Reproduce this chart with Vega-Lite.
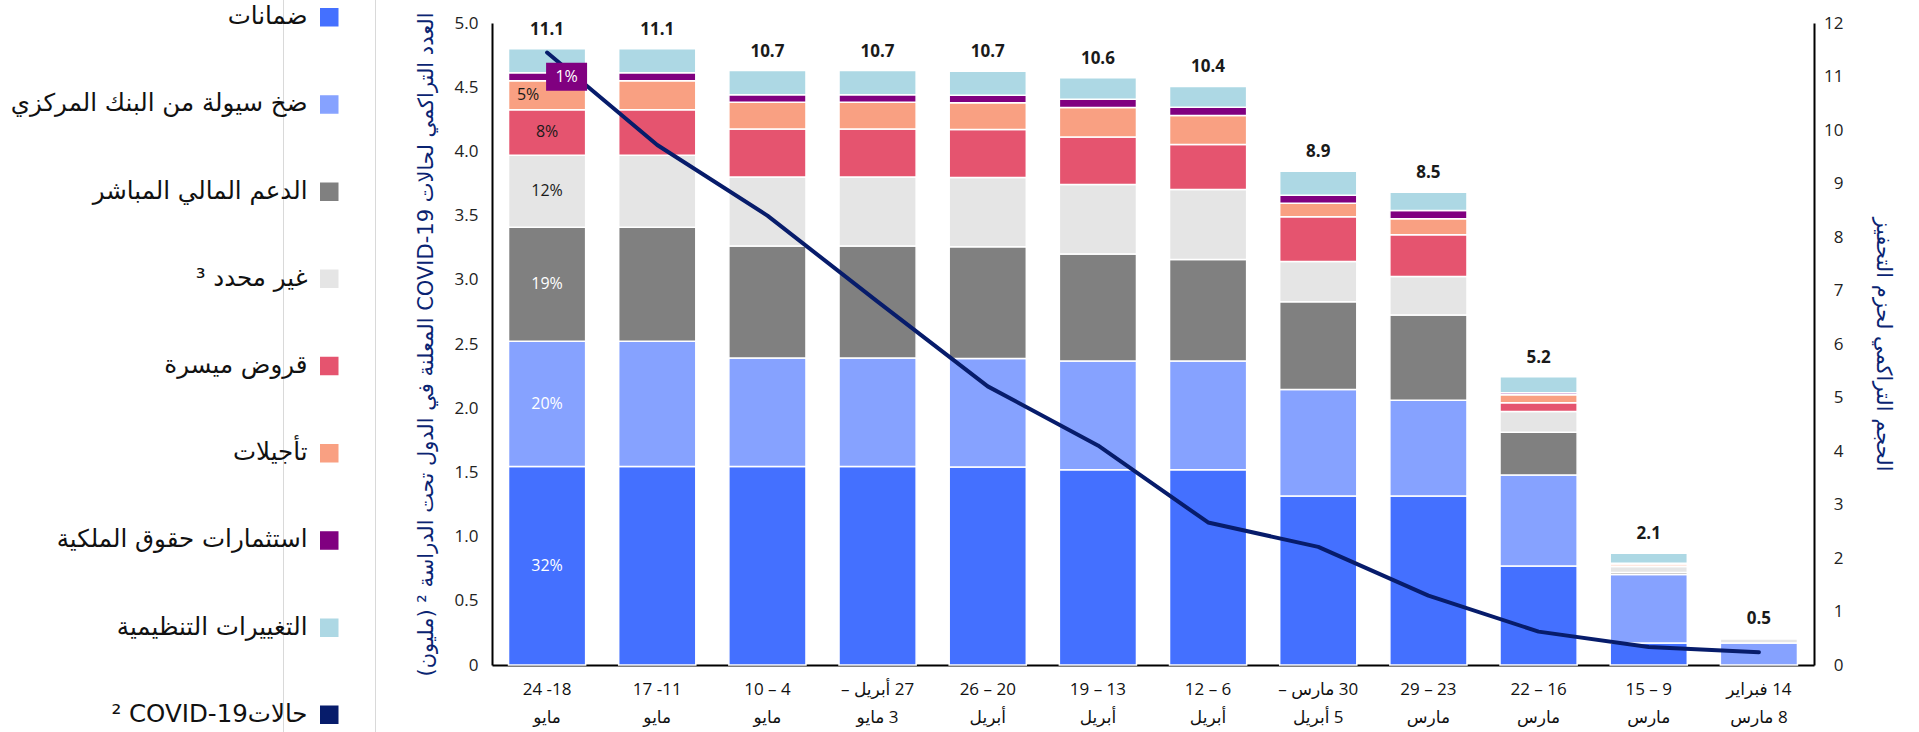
{
  "$schema": "https://vega.github.io/schema/vega-lite/v6.json",
  "autosize": {"type": "none"},
  "width": 1322,
  "height": 642,
  "padding": {"left": 492, "top": 23, "right": 105, "bottom": 67},
  "background": "white",
  "config": {
    "font": "Open Sans, DejaVu Sans",
    "view": {"stroke": null},
    "axis": {"grid": false, "ticks": false, "tickSize": 0, "domainColor": "#000000", "domainWidth": 2, "labelColor": "#222222", "labelFontSize": 17, "labelFont": "Open Sans, DejaVu Sans", "titleFont": "DejaVu Sans", "titleFontSize": 21, "titleFontWeight": "normal", "titleColor": "#0a2472"}
  },
  "datasets": {
    "seg": [
      {"w": "24 -18|مايو", "c": "ضمانات", "k": 1, "v": 3.71, "p": "32%"},
      {"w": "24 -18|مايو", "c": "ضخ سيولة من البنك المركزي", "k": 2, "v": 2.34, "p": "20%"},
      {"w": "24 -18|مايو", "c": "الدعم المالي المباشر", "k": 3, "v": 2.13, "p": "19%"},
      {"w": "24 -18|مايو", "c": "غير محدد ³", "k": 4, "v": 1.35, "p": "12%"},
      {"w": "24 -18|مايو", "c": "قروض ميسرة", "k": 5, "v": 0.85, "p": "8%"},
      {"w": "24 -18|مايو", "c": "تأجيلات", "k": 6, "v": 0.54, "p": "5%"},
      {"w": "24 -18|مايو", "c": "استثمارات حقوق الملكية", "k": 7, "v": 0.15, "p": "1%"},
      {"w": "24 -18|مايو", "c": "التغييرات التنظيمية", "k": 8, "v": 0.45},

      {"w": "17 -11|مايو", "c": "ضمانات", "k": 1, "v": 3.71},
      {"w": "17 -11|مايو", "c": "ضخ سيولة من البنك المركزي", "k": 2, "v": 2.34},
      {"w": "17 -11|مايو", "c": "الدعم المالي المباشر", "k": 3, "v": 2.13},
      {"w": "17 -11|مايو", "c": "غير محدد ³", "k": 4, "v": 1.35},
      {"w": "17 -11|مايو", "c": "قروض ميسرة", "k": 5, "v": 0.85},
      {"w": "17 -11|مايو", "c": "تأجيلات", "k": 6, "v": 0.54},
      {"w": "17 -11|مايو", "c": "استثمارات حقوق الملكية", "k": 7, "v": 0.15},
      {"w": "17 -11|مايو", "c": "التغييرات التنظيمية", "k": 8, "v": 0.45},

      {"w": "10 – 4|مايو", "c": "ضمانات", "k": 1, "v": 3.71},
      {"w": "10 – 4|مايو", "c": "ضخ سيولة من البنك المركزي", "k": 2, "v": 2.03},
      {"w": "10 – 4|مايو", "c": "الدعم المالي المباشر", "k": 3, "v": 2.09},
      {"w": "10 – 4|مايو", "c": "غير محدد ³", "k": 4, "v": 1.29},
      {"w": "10 – 4|مايو", "c": "قروض ميسرة", "k": 5, "v": 0.9},
      {"w": "10 – 4|مايو", "c": "تأجيلات", "k": 6, "v": 0.5},
      {"w": "10 – 4|مايو", "c": "استثمارات حقوق الملكية", "k": 7, "v": 0.14},
      {"w": "10 – 4|مايو", "c": "التغييرات التنظيمية", "k": 8, "v": 0.45},

      {"w": "27 أبريل –|3 مايو", "c": "ضمانات", "k": 1, "v": 3.71},
      {"w": "27 أبريل –|3 مايو", "c": "ضخ سيولة من البنك المركزي", "k": 2, "v": 2.03},
      {"w": "27 أبريل –|3 مايو", "c": "الدعم المالي المباشر", "k": 3, "v": 2.09},
      {"w": "27 أبريل –|3 مايو", "c": "غير محدد ³", "k": 4, "v": 1.29},
      {"w": "27 أبريل –|3 مايو", "c": "قروض ميسرة", "k": 5, "v": 0.9},
      {"w": "27 أبريل –|3 مايو", "c": "تأجيلات", "k": 6, "v": 0.5},
      {"w": "27 أبريل –|3 مايو", "c": "استثمارات حقوق الملكية", "k": 7, "v": 0.14},
      {"w": "27 أبريل –|3 مايو", "c": "التغييرات التنظيمية", "k": 8, "v": 0.45},

      {"w": "26 – 20|أبريل", "c": "ضمانات", "k": 1, "v": 3.7},
      {"w": "26 – 20|أبريل", "c": "ضخ سيولة من البنك المركزي", "k": 2, "v": 2.03},
      {"w": "26 – 20|أبريل", "c": "الدعم المالي المباشر", "k": 3, "v": 2.09},
      {"w": "26 – 20|أبريل", "c": "غير محدد ³", "k": 4, "v": 1.29},
      {"w": "26 – 20|أبريل", "c": "قروض ميسرة", "k": 5, "v": 0.9},
      {"w": "26 – 20|أبريل", "c": "تأجيلات", "k": 6, "v": 0.5},
      {"w": "26 – 20|أبريل", "c": "استثمارات حقوق الملكية", "k": 7, "v": 0.14},
      {"w": "26 – 20|أبريل", "c": "التغييرات التنظيمية", "k": 8, "v": 0.45},

      {"w": "19 – 13|أبريل", "c": "ضمانات", "k": 1, "v": 3.65},
      {"w": "19 – 13|أبريل", "c": "ضخ سيولة من البنك المركزي", "k": 2, "v": 2.03},
      {"w": "19 – 13|أبريل", "c": "الدعم المالي المباشر", "k": 3, "v": 2.0},
      {"w": "19 – 13|أبريل", "c": "غير محدد ³", "k": 4, "v": 1.3},
      {"w": "19 – 13|أبريل", "c": "قروض ميسرة", "k": 5, "v": 0.89},
      {"w": "19 – 13|أبريل", "c": "تأجيلات", "k": 6, "v": 0.55},
      {"w": "19 – 13|أبريل", "c": "استثمارات حقوق الملكية", "k": 7, "v": 0.155},
      {"w": "19 – 13|أبريل", "c": "التغييرات التنظيمية", "k": 8, "v": 0.4},

      {"w": "12 – 6|أبريل", "c": "ضمانات", "k": 1, "v": 3.65},
      {"w": "12 – 6|أبريل", "c": "ضخ سيولة من البنك المركزي", "k": 2, "v": 2.03},
      {"w": "12 – 6|أبريل", "c": "الدعم المالي المباشر", "k": 3, "v": 1.9},
      {"w": "12 – 6|أبريل", "c": "غير محدد ³", "k": 4, "v": 1.31},
      {"w": "12 – 6|أبريل", "c": "قروض ميسرة", "k": 5, "v": 0.84},
      {"w": "12 – 6|أبريل", "c": "تأجيلات", "k": 6, "v": 0.54},
      {"w": "12 – 6|أبريل", "c": "استثمارات حقوق الملكية", "k": 7, "v": 0.155},
      {"w": "12 – 6|أبريل", "c": "التغييرات التنظيمية", "k": 8, "v": 0.39},

      {"w": "30 مارس –|5 أبريل", "c": "ضمانات", "k": 1, "v": 3.16},
      {"w": "30 مارس –|5 أبريل", "c": "ضخ سيولة من البنك المركزي", "k": 2, "v": 1.99},
      {"w": "30 مارس –|5 أبريل", "c": "الدعم المالي المباشر", "k": 3, "v": 1.64},
      {"w": "30 مارس –|5 أبريل", "c": "غير محدد ³", "k": 4, "v": 0.75},
      {"w": "30 مارس –|5 أبريل", "c": "قروض ميسرة", "k": 5, "v": 0.84},
      {"w": "30 مارس –|5 أبريل", "c": "تأجيلات", "k": 6, "v": 0.25},
      {"w": "30 مارس –|5 أبريل", "c": "استثمارات حقوق الملكية", "k": 7, "v": 0.15},
      {"w": "30 مارس –|5 أبريل", "c": "التغييرات التنظيمية", "k": 8, "v": 0.45},

      {"w": "29 – 23|مارس", "c": "ضمانات", "k": 1, "v": 3.16},
      {"w": "29 – 23|مارس", "c": "ضخ سيولة من البنك المركزي", "k": 2, "v": 1.79},
      {"w": "29 – 23|مارس", "c": "الدعم المالي المباشر", "k": 3, "v": 1.59},
      {"w": "29 – 23|مارس", "c": "غير محدد ³", "k": 4, "v": 0.72},
      {"w": "29 – 23|مارس", "c": "قروض ميسرة", "k": 5, "v": 0.78},
      {"w": "29 – 23|مارس", "c": "تأجيلات", "k": 6, "v": 0.3},
      {"w": "29 – 23|مارس", "c": "استثمارات حقوق الملكية", "k": 7, "v": 0.155},
      {"w": "29 – 23|مارس", "c": "التغييرات التنظيمية", "k": 8, "v": 0.34},

      {"w": "22 – 16|مارس", "c": "ضمانات", "k": 1, "v": 1.85},
      {"w": "22 – 16|مارس", "c": "ضخ سيولة من البنك المركزي", "k": 2, "v": 1.7},
      {"w": "22 – 16|مارس", "c": "الدعم المالي المباشر", "k": 3, "v": 0.8},
      {"w": "22 – 16|مارس", "c": "غير محدد ³", "k": 4, "v": 0.39},
      {"w": "22 – 16|مارس", "c": "قروض ميسرة", "k": 5, "v": 0.16},
      {"w": "22 – 16|مارس", "c": "تأجيلات", "k": 6, "v": 0.15},
      {"w": "22 – 16|مارس", "c": "استثمارات حقوق الملكية", "k": 7, "v": 0.04},
      {"w": "22 – 16|مارس", "c": "التغييرات التنظيمية", "k": 8, "v": 0.3},

      {"w": "15 – 9|مارس", "c": "ضمانات", "k": 1, "v": 0.41},
      {"w": "15 – 9|مارس", "c": "ضخ سيولة من البنك المركزي", "k": 2, "v": 1.28},
      {"w": "15 – 9|مارس", "c": "الدعم المالي المباشر", "k": 3, "v": 0.04},
      {"w": "15 – 9|مارس", "c": "غير محدد ³", "k": 4, "v": 0.11},
      {"w": "15 – 9|مارس", "c": "قروض ميسرة", "k": 5, "v": 0.01},
      {"w": "15 – 9|مارس", "c": "تأجيلات", "k": 6, "v": 0.04},
      {"w": "15 – 9|مارس", "c": "استثمارات حقوق الملكية", "k": 7, "v": 0.01},
      {"w": "15 – 9|مارس", "c": "التغييرات التنظيمية", "k": 8, "v": 0.19},

      {"w": "14 فبراير|8 مارس", "c": "ضخ سيولة من البنك المركزي", "k": 2, "v": 0.41},
      {"w": "14 فبراير|8 مارس", "c": "غير محدد ³", "k": 4, "v": 0.08},
      {"w": "14 فبراير|8 مارس", "c": "قروض ميسرة", "k": 5, "v": 0.02}
    ],
    "tot": [
      {"w": "24 -18|مايو", "t": "11.1"},
      {"w": "17 -11|مايو", "t": "11.1"},
      {"w": "10 – 4|مايو", "t": "10.7"},
      {"w": "27 أبريل –|3 مايو", "t": "10.7"},
      {"w": "26 – 20|أبريل", "t": "10.7"},
      {"w": "19 – 13|أبريل", "t": "10.6"},
      {"w": "12 – 6|أبريل", "t": "10.4"},
      {"w": "30 مارس –|5 أبريل", "t": "8.9"},
      {"w": "29 – 23|مارس", "t": "8.5"},
      {"w": "22 – 16|مارس", "t": "5.2"},
      {"w": "15 – 9|مارس", "t": "2.1"},
      {"w": "14 فبراير|8 مارس", "t": "0.5"}
    ],
    "cov": [
      {"w": "24 -18|مايو", "c": "² COVID-19حالات", "n": 4.77},
      {"w": "17 -11|مايو", "c": "² COVID-19حالات", "n": 4.05},
      {"w": "10 – 4|مايو", "c": "² COVID-19حالات", "n": 3.5},
      {"w": "27 أبريل –|3 مايو", "c": "² COVID-19حالات", "n": 2.83},
      {"w": "26 – 20|أبريل", "c": "² COVID-19حالات", "n": 2.17},
      {"w": "19 – 13|أبريل", "c": "² COVID-19حالات", "n": 1.71},
      {"w": "12 – 6|أبريل", "c": "² COVID-19حالات", "n": 1.11},
      {"w": "30 مارس –|5 أبريل", "c": "² COVID-19حالات", "n": 0.92},
      {"w": "29 – 23|مارس", "c": "² COVID-19حالات", "n": 0.54},
      {"w": "22 – 16|مارس", "c": "² COVID-19حالات", "n": 0.26},
      {"w": "15 – 9|مارس", "c": "² COVID-19حالات", "n": 0.14},
      {"w": "14 فبراير|8 مارس", "c": "² COVID-19حالات", "n": 0.1}
    ]
  },
  "encoding": {
    "x": {"field": "w", "type": "nominal",
      "scale": {"domain": ["24 -18|مايو", "17 -11|مايو", "10 – 4|مايو", "27 أبريل –|3 مايو", "26 – 20|أبريل", "19 – 13|أبريل", "12 – 6|أبريل", "30 مارس –|5 أبريل", "29 – 23|مارس", "22 – 16|مارس", "15 – 9|مارس", "14 فبراير|8 مارس"], "paddingInner": 0.3, "paddingOuter": 0.15},
      "axis": {"title": null, "labelAngle": 0, "labelExpr": "[test(/[\u0600-\u06ff]/, split(datum.label, '|')[0]) ? '\u202b' + split(datum.label, '|')[0] + '\u202c' : split(datum.label, '|')[0], test(/[\u0600-\u06ff]/, split(datum.label, '|')[1]) ? '\u202b' + split(datum.label, '|')[1] + '\u202c' : split(datum.label, '|')[1]]", "labelLineHeight": 28, "labelPadding": 16, "labelFontSize": 17, "labelColor": "#111111"}}
  },
  "resolve": {"scale": {"y": "independent"}},
  "layer": [
    {
      "layer": [
        {
          "data": {"name": "seg"},
          "mark": {"type": "bar", "stroke": "white", "strokeWidth": 1.5},
          "encoding": {
            "y": {"field": "v", "type": "quantitative", "stack": "zero", "scale": {"domain": [0, 12]},
              "axis": {"orient": "right", "values": [0, 1, 2, 3, 4, 5, 6, 7, 8, 9, 10, 11, 12], "labelAlign": "right", "labelPadding": 29, "title": "الحجم التراكمي لحزم التحفيز", "titlePadding": 29}},
            "color": {"field": "c", "type": "nominal",
              "scale": {"domain": ["ضمانات", "ضخ سيولة من البنك المركزي", "الدعم المالي المباشر", "غير محدد ³", "قروض ميسرة", "تأجيلات", "استثمارات حقوق الملكية", "التغييرات التنظيمية", "² COVID-19حالات"],
                "range": ["#4470ff", "#86a2ff", "#808080", "#e5e5e5", "#e5546f", "#f9a082", "#800080", "#add8e4", "#071c6b"]},
              "legend": {"orient": "none", "legendX": -209, "legendY": -52, "direction": "vertical", "title": null,
                "padding": 34, "strokeColor": "#d9d9d9",
                "labelAlign": "right", "labelOffset": -34, "labelFontSize": 24.5, "labelLimit": 500, "labelColor": "#111111", "labelFont": "DejaVu Sans",
                "rowPadding": 62.2, "symbolSize": 289, "symbolType": "square",
                "encode": {"symbols": {
                  "shape": {"condition": {"test": "datum.index === 8 || indexof(datum.value + '', 'COVID') >= 0", "value": "stroke"}, "value": "square"},
                  "stroke": {"condition": {"test": "datum.index === 8 || indexof(datum.value + '', 'COVID') >= 0", "value": "#071c6b"}, "value": "transparent"},
                  "strokeWidth": {"value": 4},
                  "opacity": {"value": 1}}}}},
            "order": {"field": "k", "type": "quantitative"}
          }
        },
        {
          "data": {"name": "seg"},
          "transform": [
            {"aggregate": [{"op": "sum", "field": "v", "as": "top"}], "groupby": ["w"]},
            {"lookup": "w", "from": {"data": {"name": "tot"}, "key": "w", "fields": ["t"]}}
          ],
          "mark": {"type": "text", "dy": -19, "fontSize": 17, "fontWeight": "bold", "color": "#1a1a1a"},
          "encoding": {
            "y": {"field": "top", "type": "quantitative", "scale": {"domain": [0, 12]},
              "axis": {"orient": "right", "values": [0, 1, 2, 3, 4, 5, 6, 7, 8, 9, 10, 11, 12], "labelAlign": "right", "labelPadding": 29, "title": "الحجم التراكمي لحزم التحفيز", "titlePadding": 29}},
            "text": {"field": "t"}
          }
        }
      ]
    },
    {
      "data": {"name": "cov"},
      "mark": {"type": "line", "strokeWidth": 4, "strokeCap": "round", "strokeJoin": "round"},
      "encoding": {
        "y": {"field": "n", "type": "quantitative", "scale": {"domain": [0, 5]},
          "axis": {"orient": "left", "values": [0, 0.5, 1, 1.5, 2, 2.5, 3, 3.5, 4, 4.5, 5], "labelExpr": "datum.value === 0 ? '0' : format(datum.value, '.1f')", "labelPadding": 14,
            "title": "\u202bالعدد التراكمي لحالات COVID-19 المعلنة في الدول تحت الدراسة ² (مليون)\u202c", "titlePadding": 18}},
        "color": {"field": "c", "type": "nominal",
          "scale": {"domain": ["ضمانات", "ضخ سيولة من البنك المركزي", "الدعم المالي المباشر", "غير محدد ³", "قروض ميسرة", "تأجيلات", "استثمارات حقوق الملكية", "التغييرات التنظيمية", "² COVID-19حالات"],
            "range": ["#4470ff", "#86a2ff", "#808080", "#e5e5e5", "#e5546f", "#f9a082", "#800080", "#add8e4", "#071c6b"]}}
      }
    },
    {
      "data": {"name": "seg"},
      "transform": [
        {"stack": "v", "groupby": ["w"], "sort": [{"field": "k", "order": "ascending"}], "as": ["s0", "s1"]},
        {"filter": "isValid(datum.p)"},
        {"fold": ["s0", "s1"], "as": ["edge", "pos"]},
        {"aggregate": [{"op": "mean", "field": "pos", "as": "mid"}], "groupby": ["w", "c", "p", "k"]}
      ],
      "encoding": {
        "y": {"field": "mid", "type": "quantitative", "scale": {"domain": [0, 12]}, "axis": null}
      },
      "layer": [
        {"transform": [{"filter": "datum.k <= 3"}], "mark": {"type": "text", "fontSize": 16, "color": "#ffffff"}, "encoding": {"text": {"field": "p"}}},
        {"transform": [{"filter": "datum.k == 4 || datum.k == 5"}], "mark": {"type": "text", "fontSize": 16, "color": "#1a1a1a"}, "encoding": {"text": {"field": "p"}}},
        {"transform": [{"filter": "datum.k == 6"}], "mark": {"type": "text", "fontSize": 16, "color": "#1a1a1a", "dx": -19}, "encoding": {"text": {"field": "p"}}},
        {"transform": [{"filter": "datum.k == 7"}], "mark": {"type": "point", "shape": "M-1.464,-1H1.464V1H-1.464Z", "size": 784, "filled": true, "color": "#800080", "opacity": 1, "strokeWidth": 0, "xOffset": 19.5}},
        {"transform": [{"filter": "datum.k == 7"}], "mark": {"type": "text", "fontSize": 16, "color": "#ffffff", "dx": 19.5}, "encoding": {"text": {"field": "p"}}}
      ]
    }
  ]
}
